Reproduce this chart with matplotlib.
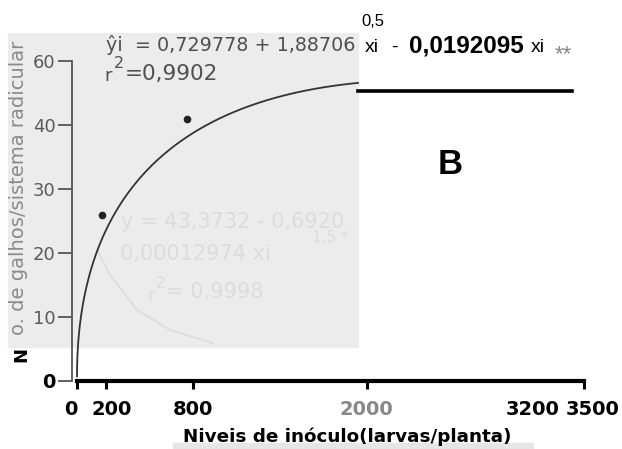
import numpy as np
import matplotlib
matplotlib.use("Agg")
import matplotlib.pyplot as plt
from matplotlib.patches import Rectangle
from matplotlib.lines import Line2D
from matplotlib.transforms import ScaledTranslation

# ---- data ----
fit_b0 = 0.729778       # regression coefficients printed on the chart
fit_b1 = 1.88706
fit_b2 = 0.0192095
fit_xmax = 1940         # visible extent of the fitted curve

points_x = [175, 760]   # observed means (larvas/planta)
points_y = [26, 41]     # galhos / sistema radicular

ghost_x = [138, 228, 414, 642, 939]   # faint bleed-through curve
ghost_y = [20.5, 16.6, 11.1, 8.0, 5.9]

x_ticks = [0, 200, 800, 2000, 3200, 3500]
x_tick_labels = ["0", "200", "800", "2000", "3200", "3500"]
y_ticks = [0, 10, 20, 30, 40, 50]
y_tick_labels = ["0", "10", "20", "30", "40", "60"]

W, H = 622, 449
def fx(x): return x / W
def fy(y): return 1 - y / H

fig = plt.figure(figsize=(6.22, 4.49), dpi=100)
fig.patch.set_facecolor("white")

# scanned grey background region
fig.add_artist(Rectangle((fx(8), fy(347)), (358 - 8) / W, (347 - 33) / H,
                         transform=fig.transFigure, color="#ececec", zorder=-2))
fig.add_artist(Rectangle((fx(173), fy(449)), (533 - 173) / W, 6 / H,
                         transform=fig.transFigure, color="#e6e6e6", zorder=-2))

ax = fig.add_axes([77 / W, 68 / H, 507 / W, 320 / H])
ax.patch.set_alpha(0)
ax.set_xlim(0, 3500)
ax.set_ylim(0, 50)

# fitted curve
xs = np.linspace(0, np.sqrt(fit_xmax), 500) ** 2
ys = fit_b0 + fit_b1 * np.sqrt(xs) - fit_b2 * xs
ax.plot(xs, ys, color="#333333", lw=1.3, clip_on=False, zorder=3)
ax.plot(points_x, points_y, "o", ms=4.5, color="#222222", zorder=4, clip_on=False)
ax.plot(ghost_x, ghost_y, color="#dedede", lw=1.4, zorder=1)

for s in ["top", "right"]:
    ax.spines[s].set_visible(False)
ax.spines["bottom"].set_linewidth(3)
ax.spines["bottom"].set_color("black")
ax.spines["bottom"].set_bounds(0, 3500)
ax.spines["left"].set_position(("outward", 3.6))
ax.spines["left"].set_linewidth(1.3)
ax.spines["left"].set_color("#555555")
ax.spines["left"].set_bounds(0, 50)

ax.set_yticks(y_ticks)
ax.set_yticklabels(y_tick_labels)
ax.tick_params(axis="y", direction="out", length=10, width=1.3, color="#555555",
               pad=2, labelsize=13, labelcolor="#5a5a5a")
for t in ax.get_yticklabels():
    if t.get_text() == "0":
        t.set_color("black")
        t.set_fontsize(14)
        t.set_fontweight("bold")

ax.set_xticks(x_ticks)
ax.set_xticklabels(x_tick_labels)
ax.tick_params(axis="x", direction="out", length=6, width=2.2, color="black",
               pad=8, labelsize=14)
x_offsets = [-6, 6, 0, 0, -8, 9]
x_colors = ["black", "black", "black", "#888888", "black", "black"]
for t, dx, c in zip(ax.get_xticklabels(), x_offsets, x_colors):
    t.set_fontweight("bold")
    t.set_color(c)
    t.set_transform(t.get_transform() + ScaledTranslation(dx / 100, 0, fig.dpi_scale_trans))
for tk, lab in zip(ax.xaxis.get_major_ticks(), x_tick_labels):
    if lab == "3200":
        tk.tick1line.set_visible(False)

# ---- texts ----
grey = "#505050"
fig.text(fx(106), fy(45), "ŷi  = 0,729778 + 1,88706", fontsize=13.8, color=grey,
         va="center", ha="left")
fig.text(fx(104), fy(76), "r", fontsize=13, color=grey, va="center")
fig.text(fx(114), fy(64), "2", fontsize=11.5, color=grey, va="center")
fig.text(fx(125), fy(74), "=0,9902", fontsize=15.5, color=grey, va="center")

lib = "Liberation Sans"
fig.text(fx(361), fy(22), "0,5", fontsize=12, color="black", va="center", family=lib)
fig.text(fx(365), fy(47), "xi", fontsize=14, color="black", va="center", family=lib)
fig.text(fx(391), fy(47), "-", fontsize=14, color="black", va="center", family=lib)
fig.text(fx(409), fy(46), "0,0192095", fontsize=17.5, color="black", va="center",
         family=lib, fontweight="bold")
fig.text(fx(531), fy(47), "xi", fontsize=14, color="black", va="center", family=lib)
fig.text(fx(555), fy(60), "**", fontsize=16, color="#888888", va="baseline", family=lib)
fig.add_artist(Line2D([fx(358), fx(572)], [fy(91), fy(91)], lw=2.6, color="black"))
fig.text(fx(450), fy(164), "B", fontsize=25, fontweight="bold", family=lib,
         ha="center", va="center")

# ghost (bleed-through) texts
gc = "#dcdcdc"
fig.text(fx(121), fy(222), "y = 43,3732 - 0,6920", fontsize=15, color=gc, va="center", zorder=-1)
fig.text(fx(312), fy(238), "1,5 *", fontsize=11, color=gc, va="center", zorder=-1)
fig.text(fx(120), fy(254), "0,00012974 xi", fontsize=15, color=gc, va="center", zorder=-1)
fig.text(fx(147), fy(296), "r", fontsize=13, color=gc, va="center", zorder=-1)
fig.text(fx(156), fy(283), "2", fontsize=11, color=gc, va="center", zorder=-1)
fig.text(fx(166), fy(292), "= 0,9998", fontsize=15, color=gc, va="center", zorder=-1)

# axis titles
fig.text(fx(347), fy(437), "Niveis de inóculo(larvas/planta)", fontsize=13.2,
         fontweight="bold", ha="center", va="center")
fig.text(fx(19), fy(188), "o. de galhos/sistema radicular", rotation=90, fontsize=14,
         color="#8a8a8a", ha="center", va="center")
fig.text(fx(21), fy(354), "N", rotation=90, fontsize=13, fontweight="bold",
         color="black", ha="center", va="center")

fig.savefig("out.png", dpi=100)
